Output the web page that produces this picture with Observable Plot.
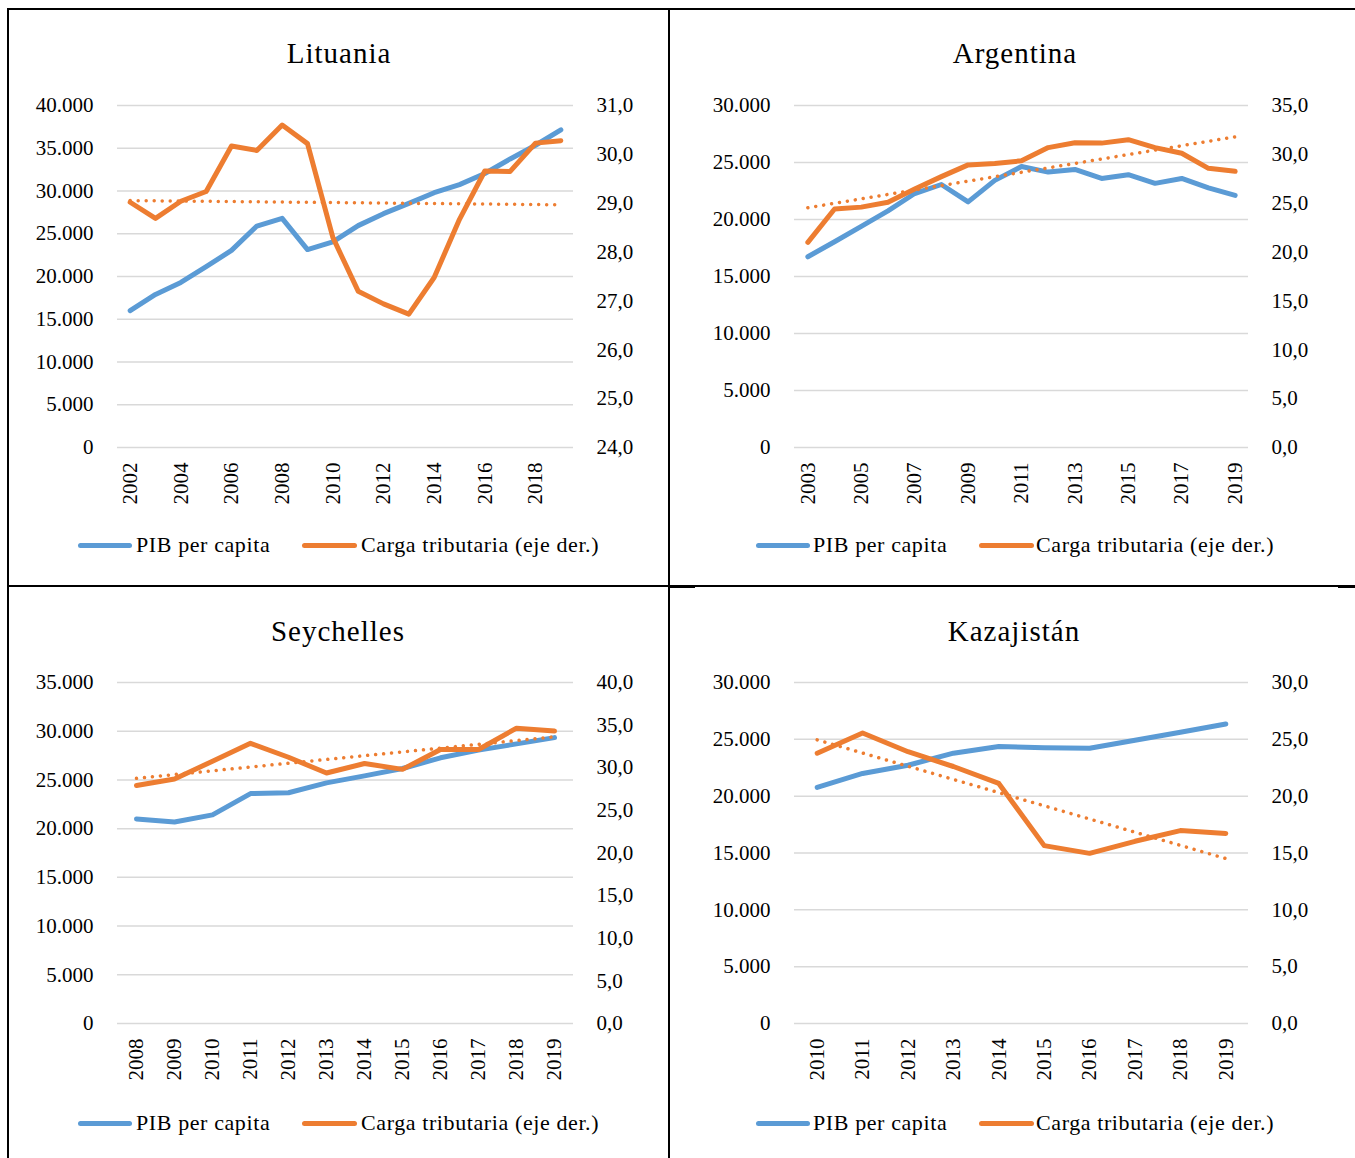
<!DOCTYPE html>
<html><head><meta charset="utf-8">
<script src="https://cdn.jsdelivr.net/npm/d3@7"></script>
<script src="https://cdn.jsdelivr.net/npm/@observablehq/plot@0.6"></script>
<style>
body{margin:0;background:#fff;font-family:"Liberation Serif",serif;color:#000;}
#root{position:relative;width:1355px;height:1158px;overflow:hidden;background:#fff;}
#root svg text{font-family:"Liberation Serif",serif !important;font-size:21px !important;fill:#000;}
.title{position:absolute;font-size:29px;line-height:29px;letter-spacing:1px;white-space:nowrap;transform:translateX(-50%);}
.lt{position:absolute;font-size:22px;line-height:22px;letter-spacing:0.6px;white-space:nowrap;}
.sw{position:absolute;height:5px;border-radius:3px;}
.bd{position:absolute;background:#000;}
</style></head><body><div id="root"></div>
<script>
// ---- data ----
const litYears = [2002,2003,2004,2005,2006,2007,2008,2009,2010,2011,2012,2013,2014,2015,2016,2017,2018,2019];
const litPib   = [16000,17900,19300,21150,23050,25900,26800,23150,24050,25950,27350,28550,29800,30750,32050,33750,35350,37150];
const litCarga = [29.02,28.69,29.04,29.24,30.17,30.08,30.60,30.22,28.30,27.20,26.94,26.73,27.48,28.67,29.66,29.65,30.23,30.28];
const litTicks = [2002,2004,2006,2008,2010,2012,2014,2016,2018];

const argYears = [2003,2004,2005,2006,2007,2008,2009,2010,2011,2012,2013,2014,2015,2016,2017,2018,2019];
const argPib   = [16730,18050,19400,20760,22280,23070,21550,23430,24650,24160,24390,23600,23930,23170,23600,22770,22110];
const argCarga = [20.99,24.41,24.60,25.10,26.45,27.72,28.92,29.07,29.34,30.69,31.19,31.15,31.50,30.69,30.11,28.57,28.26];
const argTicks = [2003,2005,2007,2009,2011,2013,2015,2017,2019];

const seyYears = [2008,2009,2010,2011,2012,2013,2014,2015,2016,2017,2018,2019];
const seyPib   = [21000,20690,21410,23600,23680,24700,25420,26170,27270,28060,28700,29340];
const seyCarga = [27.91,28.69,30.76,32.87,31.23,29.38,30.50,29.81,32.14,32.14,34.64,34.30];

const kazYears = [2010,2011,2012,2013,2014,2015,2016,2017,2018,2019];
const kazPib   = [20770,22000,22720,23780,24370,24270,24210,24920,25630,26350];
const kazCarga = [23.78,25.56,23.91,22.61,21.12,15.65,14.97,16.03,16.97,16.72];

const titles = ["Lituania","Argentina","Seychelles","Kazajistán"];
const legendLabels = ["PIB per capita","Carga tributaria (eje der.)"];
const leftTicks = [
  [0,5000,10000,15000,20000,25000,30000,35000,40000],
  [0,5000,10000,15000,20000,25000,30000],
  [0,5000,10000,15000,20000,25000,30000,35000],
  [0,5000,10000,15000,20000,25000,30000]
];
const rightTicks = [
  [24,25,26,27,28,29,30,31],
  [0,5,10,15,20,25,30,35],
  [0,5,10,15,20,25,30,35,40],
  [0,5,10,15,20,25,30]
];

const BLUE = "#5B9BD5", ORANGE = "#ED7D31";
const FONT = "Liberation Serif";
const loc = d3.formatLocale({decimal:",", thousands:".", grouping:[3], currency:["",""]});
const fmtL = loc.format(",.0f");
const fmtR = loc.format(",.1f");

// ---- layout ----
const panels = [
  {years:litYears, pib:litPib, carga:litCarga, xt:litTicks, lt:leftTicks[0], rt:rightTicks[0], title:titles[0],
   left:0, top:0, w:669, fx0:117, fx1:573, fy0:105, fy1:447, tx:339, ty:63, ly:545, lb:78, ltx:136, lo:302, lotx:361},
  {years:argYears, pib:argPib, carga:argCarga, xt:argTicks, lt:leftTicks[1], rt:rightTicks[1], title:titles[1],
   left:669, top:0, w:686, fx0:794, fx1:1248, fy0:105, fy1:447, tx:1015, ty:63, ly:545, lb:756, ltx:813, lo:979, lotx:1036},
  {years:seyYears, pib:seyPib, carga:seyCarga, xt:seyYears, lt:leftTicks[2], rt:rightTicks[2], title:titles[2],
   left:0, top:586, w:669, fx0:117, fx1:573, fy0:682, fy1:1023, tx:338, ty:641, ly:1123, lb:78, ltx:136, lo:302, lotx:361},
  {years:kazYears, pib:kazPib, carga:kazCarga, xt:kazYears, lt:leftTicks[3], rt:rightTicks[3], title:titles[3],
   left:669, top:586, w:686, fx0:794, fx1:1248, fy0:682, fy1:1023, tx:1014, ty:641, ly:1123, lb:756, ltx:813, lo:979, lotx:1036}
];

const root = document.getElementById("root");
const H = 520;

for (const p of panels) {
  const data = p.years.map((y,i)=>({year:y, pib:p.pib[i], carga:p.carga[i]}));
  const common = {
    width:p.w, height:H,
    marginLeft:p.fx0 - p.left, marginRight:(p.left + p.w) - p.fx1,
    marginTop:p.fy0 - p.top, marginBottom:(p.top + H) - p.fy1,
    x:{domain:[p.years[0]-0.5, p.years[p.years.length-1]+0.5], axis:null},
    style:{background:"transparent", fontFamily:FONT, fontSize:"21px", color:"#000", overflow:"visible"}
  };
  const leftPlot = Plot.plot({
    ...common,
    y:{domain:[0, p.lt[p.lt.length-1]], axis:null},
    marks:[
      Plot.gridY(p.lt, {stroke:"#d9d9d9", strokeOpacity:1, strokeWidth:1.5}),
      Plot.axisY(p.lt, {anchor:"left", tickSize:0, tickPadding:24, tickFormat:fmtL, label:null, fontFamily:FONT, fontSize:21}),
      Plot.axisX(p.xt, {anchor:"bottom", tickSize:0, tickPadding:15, tickRotate:-90, tickFormat:d=>String(d), label:null, fontFamily:FONT, fontSize:21}),
      Plot.line(data, {x:"year", y:"pib", stroke:BLUE, strokeWidth:5, strokeLinejoin:"round", strokeLinecap:"round"})
    ]
  });
  const rightPlot = Plot.plot({
    ...common,
    y:{domain:[p.rt[0], p.rt[p.rt.length-1]], axis:null},
    marks:[
      Plot.axisY(p.rt, {anchor:"right", tickSize:0, tickPadding:23, tickFormat:fmtR, label:null, fontFamily:FONT, fontSize:21}),
      Plot.linearRegressionY(data, {x:"year", y:"carga", stroke:ORANGE, strokeWidth:3.5, strokeDasharray:"0.01 8", strokeLinecap:"round", ci:0}),
      Plot.line(data, {x:"year", y:"carga", stroke:ORANGE, strokeWidth:5, strokeLinejoin:"round", strokeLinecap:"round"})
    ]
  });
  for (const svg of [leftPlot, rightPlot]) {
    svg.style.position = "absolute";
    svg.style.left = p.left + "px";
    svg.style.top = p.top + "px";
    svg.style.maxWidth = "none";
    root.appendChild(svg);
  }
  // title
  const t = document.createElement("div");
  t.className = "title";
  t.textContent = p.title;
  t.style.left = p.tx + "px";
  t.style.top = (p.ty - 24.3) + "px";
  root.appendChild(t);
  // legend
  const s1 = document.createElement("div");
  s1.className = "sw"; s1.style.background = BLUE;
  s1.style.left = p.lb + "px"; s1.style.width = "54px"; s1.style.top = (p.ly - 2.5) + "px";
  root.appendChild(s1);
  const t1 = document.createElement("div");
  t1.className = "lt"; t1.textContent = legendLabels[0];
  t1.style.left = p.ltx + "px"; t1.style.top = (p.ly - 11) + "px";
  root.appendChild(t1);
  const s2 = document.createElement("div");
  s2.className = "sw"; s2.style.background = ORANGE;
  s2.style.left = p.lo + "px"; s2.style.width = "55px"; s2.style.top = (p.ly - 2.5) + "px";
  root.appendChild(s2);
  const t2 = document.createElement("div");
  t2.className = "lt"; t2.textContent = legendLabels[1];
  t2.style.left = p.lotx + "px"; t2.style.top = (p.ly - 11) + "px";
  root.appendChild(t2);
}

// table borders
function bd(l,t,w,h){const d=document.createElement("div");d.className="bd";d.style.left=l+"px";d.style.top=t+"px";d.style.width=w+"px";d.style.height=h+"px";root.appendChild(d);}
bd(7,8,1348,2);      // top
bd(7,8,2,1150);      // left
bd(668,8,2,1150);    // middle vertical
bd(7,585,1348,1.5);  // middle horizontal
bd(669,585,26,2.5);
bd(1338,585,17,2.5);
</script>
</body></html>
